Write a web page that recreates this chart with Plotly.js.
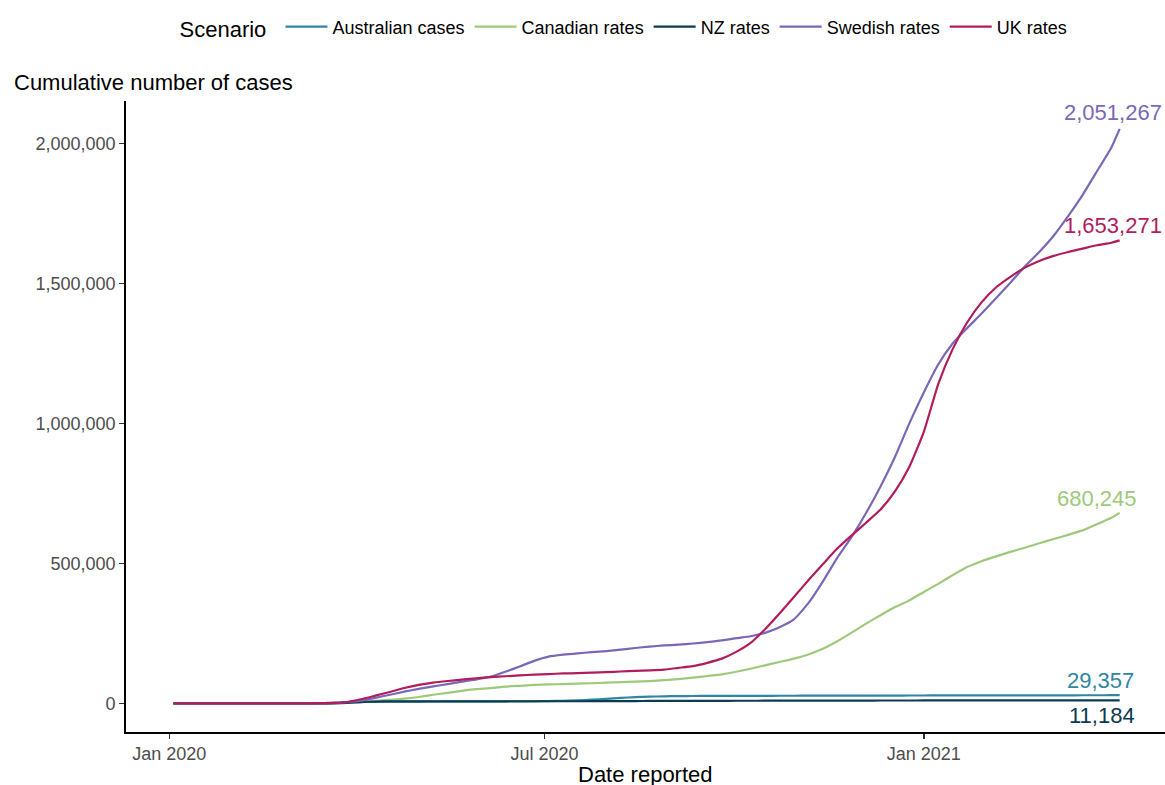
<!DOCTYPE html>
<html>
<head>
<meta charset="utf-8">
<script src="https://cdn.plot.ly/plotly-3.0.1.min.js"></script>
<style>html,body{margin:0;padding:0;background:#fff;}#chart{width:1165px;height:785px;}</style>
</head>
<body>
<div id="chart"></div>
<script>
const dates = [
 "2020-01-03","2020-01-10","2020-01-17","2020-01-24","2020-01-31","2020-02-07","2020-02-14","2020-02-21","2020-02-28",
 "2020-03-06","2020-03-13","2020-03-20","2020-03-27","2020-04-03","2020-04-10","2020-04-17","2020-04-24",
 "2020-05-01","2020-05-08","2020-05-15","2020-05-22","2020-05-29","2020-06-05","2020-06-12","2020-06-19","2020-06-26",
 "2020-07-03","2020-07-10","2020-07-17","2020-07-24","2020-07-31","2020-08-07","2020-08-14","2020-08-21","2020-08-28",
 "2020-09-04","2020-09-11","2020-09-18","2020-09-25","2020-10-02","2020-10-09","2020-10-16","2020-10-23","2020-10-30",
 "2020-11-06","2020-11-13","2020-11-20","2020-11-27","2020-12-04","2020-12-11","2020-12-18","2020-12-25",
 "2021-01-01","2021-01-08","2021-01-15","2021-01-22","2021-01-29","2021-02-05","2021-02-12","2021-02-19","2021-02-26",
 "2021-03-05","2021-03-12","2021-03-19","2021-03-26","2021-04-02","2021-04-06"
];

const australianCases = [
 0,0,0,0,0,0,0,0,0,
 0,200,1000,3000,5300,6300,6600,6700,
 6800,6900,7000,7100,7200,7300,7400,7500,7700,
 8500,9600,11200,13300,16300,19900,22400,24100,25400,
 26100,26600,26800,27000,27100,27200,27300,27400,27500,
 27600,27700,27800,27900,27950,28000,28100,28300,
 28400,28600,28700,28750,28800,28830,28860,28900,28950,
 29000,29050,29150,29250,29320,29357
];
const canadianRates = [
 0,0,0,0,0,0,0,0,0,
 0,300,1000,2000,5000,9000,13000,17000,
 23000,31000,38000,45000,51000,55000,60000,63000,66000,
 68000,69000,71000,72000,74000,76000,78000,80000,83000,
 87000,92000,98000,104000,113000,124000,136000,148000,160000,
 175000,195000,222000,253000,285000,315000,344000,368000,
 398000,427000,458000,487000,508000,525000,541000,556000,572000,
 587000,602000,618000,640000,663000,680245
];
const nzRates = [
 0,0,0,0,0,0,0,0,0,
 0,0,200,2000,5000,6800,7200,7400,
 7600,7600,7700,7700,7700,7700,7700,7800,7800,
 7800,7800,7800,7900,7900,8000,8400,8800,9000,
 9100,9200,9300,9400,9500,9600,9700,9800,9900,
 10000,10100,10200,10300,10300,10400,10400,10500,
 10600,10600,10700,10700,10800,10800,10800,10900,10900,
 11000,11000,11050,11100,11150,11184
];
const swedishRates = [
 0,0,0,0,0,0,0,0,0,
 0,500,2000,5000,10000,20000,31000,42000,
 52000,61000,69000,78000,86000,96000,113000,132000,152000,
 167000,174000,179000,183000,187000,192000,198000,203000,207000,
 210000,214000,219000,225000,233000,240000,252000,272000,300000,
 358000,435000,520000,595000,680000,775000,880000,1000000,
 1110000,1210000,1285000,1340000,1392000,1447000,1502000,1560000,1612000,
 1670000,1740000,1815000,1900000,1985000,2051267
];
const ukRates = [
 0,0,0,0,0,0,0,0,0,
 200,800,2000,5000,15000,28000,41000,55000,
 66000,74000,80000,85000,90000,94000,97000,100000,103000,
 105000,107000,108000,110000,112000,114000,116000,118000,121000,
 127000,133000,145000,160000,184000,216000,265000,321000,380000,
 440000,497000,553000,600000,645000,692000,757000,845000,
 970000,1140000,1265000,1360000,1432000,1485000,1523000,1556000,1580000,
 1598000,1612000,1624000,1636000,1645000,1653271
];

const scenarioNames = ["Australian cases","Canadian rates","NZ rates","Swedish rates","UK rates"];
const scenarioValues = [australianCases, canadianRates, nzRates, swedishRates, ukRates];
const yTickVals = [0, 500000, 1000000, 1500000, 2000000];
const xTickVals = ["2020-01-01","2020-07-01","2021-01-01"];
const xTickText = ["Jan 2020","Jul 2020","Jan 2021"];

const colors = ["#2f86a1","#9dca7a","#0c3a52","#7a67b7","#b11c5c"];
// label placement offsets (pixels) relative to each series' last point
const labelStyle = [
 {xshift:16, yshift:15},
 {xshift:19, yshift:14},
 {xshift:17, yshift:-15},
 {xshift:44, yshift:16},
 {xshift:44, yshift:15}
];

const FONT = "Liberation Sans, Arial, Helvetica, sans-serif";

const traces = scenarioNames.map((name, i) => ({
  type: "scatter", mode: "lines", name: name,
  x: dates, y: scenarioValues[i],
  line: {color: colors[i], width: 2.2, shape: "spline", smoothing: 0.5},
  hoverinfo: "skip"
}));

const annotations = scenarioNames.map((name, i) => {
  const v = scenarioValues[i];
  const last = v[v.length - 1];
  return {
    xref: "x", yref: "y", x: dates[dates.length - 1], y: last,
    text: last.toLocaleString("en-US"), showarrow: false,
    xanchor: "right", yanchor: "middle",
    xshift: labelStyle[i].xshift, yshift: labelStyle[i].yshift,
    font: {family: FONT, size: 22, color: colors[i]}
  };
});
annotations.push({
  xref: "paper", yref: "paper", x: -0.1097, y: 1.030, xanchor: "left", yanchor: "middle",
  text: "Cumulative number of cases", showarrow: false,
  font: {family: FONT, size: 22, color: "#000"}
});
annotations.push({
  xref: "paper", yref: "paper", x: 0.5, y: -0.068, xanchor: "center", yanchor: "middle",
  text: "Date reported", showarrow: false,
  font: {family: FONT, size: 22, color: "#000"}
});

const layout = {
  width: 1165, height: 785,
  margin: {l: 126, r: 0, t: 101, b: 53},
  paper_bgcolor: "#fff", plot_bgcolor: "#fff",
  font: {family: FONT, color: "#000"},
  showlegend: true,
  legend: {
    orientation: "h", xref: "container", yref: "container",
    x: 0.5365, y: 0.9643, xanchor: "center", yanchor: "middle",
    itemwidth: 42,
    title: {text: "Scenario ", side: "left", font: {size: 22, color: "#000"}},
    font: {size: 18, color: "#000"}
  },
  xaxis: {
    type: "date", range: ["2019-12-11", "2021-04-28"],
    tickvals: xTickVals, ticktext: xTickText,
    showgrid: false, zeroline: false,
    showline: true, linecolor: "#000", linewidth: 1.8,
    ticks: "outside", ticklen: 5, tickwidth: 1.5, tickcolor: "#333",
    tickfont: {size: 18, color: "#4d4d4d"}
  },
  yaxis: {
    range: [-102000, 2151000],
    tickvals: yTickVals, tickformat: ",d",
    showgrid: false, zeroline: false,
    showline: true, linecolor: "#000", linewidth: 1.8,
    ticks: "outside", ticklen: 5, tickwidth: 1.5, tickcolor: "#333",
    tickfont: {size: 18, color: "#4d4d4d"}
  },
  annotations: annotations
};

Plotly.newPlot("chart", traces, layout, {displayModeBar: false, staticPlot: true});
</script>
</body>
</html>
